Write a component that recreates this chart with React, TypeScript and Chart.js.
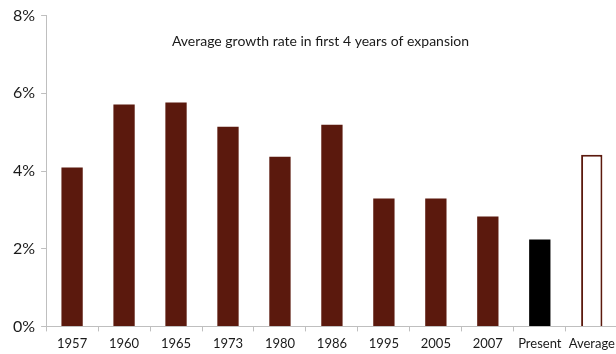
import React, { useEffect, useRef } from "react";
import { Chart, registerables } from "chart.js";

Chart.register(...registerables);

const categories = ["1957", "1960", "1965", "1973", "1980", "1986", "1995", "2005", "2007", "Present", "Average"];
const growthRates = [4.09, 5.71, 5.76, 5.14, 4.37, 5.19, 3.29, 3.29, 2.83, 2.24, 4.42];
const yTicks = [0, 2, 4, 6, 8];
const titleText = "Average growth rate in first 4 years of expansion";

const MAROON = "#5b190d";
const FONT = "Lato, 'Open Sans', sans-serif";

const fillColors = categories.map((c) =>
  c === "Present" ? "#000000" : c === "Average" ? "#ffffff" : MAROON
);
const borderColors = categories.map((c) => (c === "Present" ? "#000000" : MAROON));
const borderWidths = categories.map((c) => (c === "Average" ? 2 : 0));

// Title drawn inside the plot area, near its top
const innerTitle = {
  id: "innerTitle",
  afterDraw(chart: any) {
    const { ctx, chartArea } = chart;
    ctx.save();
    ctx.font = `14px ${FONT}`;
    ctx.fillStyle = "#1a1a1a";
    ctx.textAlign = "center";
    ctx.textBaseline = "middle";
    ctx.fillText(titleText, chartArea.left + (chartArea.right - chartArea.left) * 0.48, chartArea.top + 26);
    ctx.restore();
  },
};

export default function App() {
  const canvasRef = useRef<HTMLCanvasElement | null>(null);

  useEffect(() => {
    if (!canvasRef.current) return;
    const chart = new Chart(canvasRef.current, {
      type: "bar",
      data: {
        labels: categories,
        datasets: [
          {
            data: growthRates,
            backgroundColor: fillColors,
            borderColor: borderColors,
            borderWidth: borderWidths,
            categoryPercentage: 1,
            barPercentage: 0.41,
          },
        ],
      },
      options: {
        animation: false,
        responsive: false,
        maintainAspectRatio: false,
        layout: { padding: { top: 7, right: 2, left: 7, bottom: -3 } },
        plugins: { legend: { display: false }, tooltip: { enabled: false }, title: { display: false } },
        scales: {
          x: {
            grid: {
              offset: true,
              drawOnChartArea: false,
              drawTicks: true,
              tickLength: 5,
              color: "#bfbfbf",
            },
            border: { display: true, color: "#bfbfbf" },
            ticks: { color: "#1a1a1a", font: { family: FONT, size: 13 }, padding: 5, maxRotation: 0, autoSkip: false },
          },
          y: {
            min: 0,
            max: 8,
            afterBuildTicks: (scale: any) => {
              scale.ticks = yTicks.map((v) => ({ value: v }));
            },
            grid: { drawOnChartArea: false, drawTicks: true, tickLength: 5, color: "#bfbfbf" },
            border: { display: true, color: "#bfbfbf" },
            ticks: {
              color: "#1a1a1a",
              font: { family: FONT, size: 16 },
              padding: 6,
              callback: (v: any) => `${v}%`,
            },
          },
        },
      },
      plugins: [innerTitle],
    });
    return () => chart.destroy();
  }, []);

  return (
    <div style={{ position: "fixed", left: 0, top: 0, width: 620, height: 354, background: "#fff" }}>
      <canvas ref={canvasRef} width={620} height={354} style={{ display: "block" }} />
    </div>
  );
}
